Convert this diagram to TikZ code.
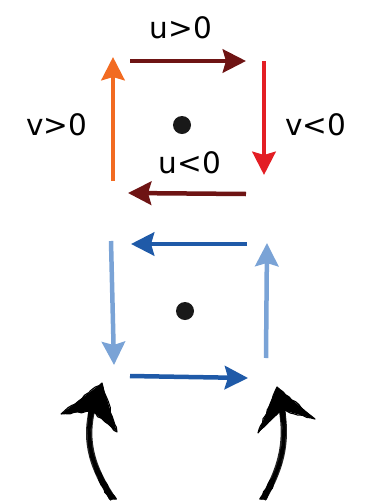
\documentclass[tikz,border=0pt]{standalone}
\usepackage{fontspec}
\setmainfont{DejaVu Sans}
\usetikzlibrary{arrows.meta,decorations.pathmorphing}
\definecolor{darkred}{HTML}{6E1414}
\definecolor{brightred}{HTML}{E31E24}
\definecolor{orangeup}{HTML}{F26B21}
\definecolor{darkblue}{HTML}{1F5AA8}
\definecolor{lightblue}{HTML}{7AA3D6}
\tikzset{
  flow/.style={line width=3.2pt,-{Stealth[length=0.58cm,width=0.58cm,inset=0.08cm]}},
  lbl/.style={font=\fontsize{21}{24}\selectfont,inner sep=0pt},
  center/.style={circle,fill=black!90,minimum size=0.45cm,inner sep=0pt},
  sketch/.style={line width=1.4pt,black,line cap=round,
    decorate,decoration={random steps,segment length=3pt,amplitude=0.6pt}}
}
\begin{document}
\begin{tikzpicture}[x=0.025cm,y=-0.025cm,line cap=butt,line join=round]
  \useasboundingbox (0,0) rectangle (375,501);
  % upper cycle
  \node[center] (c1) at (182,125) {};
  \coordinate (a1) at (130,61);  \coordinate (b1) at (246,61);
  \coordinate (a2) at (264,61);  \coordinate (b2) at (264,175);
  \coordinate (a3) at (246,194); \coordinate (b3) at (128,193);
  \coordinate (a4) at (113,181); \coordinate (b4) at (113,57);
  \draw[flow,darkred] (a1) -- (b1);
  \draw[flow,brightred] (a2) -- (b2);
  \draw[flow,darkred] (a3) -- (b3);
  \draw[flow,orangeup] (a4) -- (b4);
  \node[lbl] (up) at (181,28) {u>0};
  \node[lbl] (vneg) at (316,125) {v<0};
  \node[lbl] (uneg) at (190,163) {u<0};
  \node[lbl] (vpos) at (57,125) {v>0};
  % lower cycle
  \node[center] (c2) at (185,311) {};
  \coordinate (d1) at (247,244); \coordinate (e1) at (131,244);
  \coordinate (d2) at (111,241); \coordinate (e2) at (114,365);
  \coordinate (d3) at (130,376); \coordinate (e3) at (248,378);
  \coordinate (d4) at (266,358); \coordinate (e4) at (267,243);
  \draw[flow,darkblue] (d1) -- (e1);
  \draw[flow,lightblue] (d2) -- (e2);
  \draw[flow,darkblue] (d3) -- (e3);
  \draw[flow,lightblue] (d4) -- (e4);
  % hand drawn arrows
  \coordinate (l0) at (113,499); \coordinate (l1) at (92,410);
  \coordinate (r0) at (263,499); \coordinate (r1) at (282,410);
  \draw[line width=4.5pt,black!85] (l0) .. controls (88,462) and (86,436) .. (l1);
  \draw[line width=4.5pt,black!85] (r0) .. controls (285,462) and (286,436) .. (r1);
  \foreach \dx in {-3,-1.5,0,1.5,3}{
    \draw[sketch] ([xshift=\dx*0.025cm]l0) .. controls (88,462) and (86,436) .. ([xshift=\dx*0.015cm]l1);
    \draw[sketch] ([xshift=\dx*0.025cm]r0) .. controls (285,462) and (286,436) .. ([xshift=\dx*0.015cm]r1);
  }
  \fill[black] (102,383) -- (61,414) -- (92,411) -- (117,432) -- cycle;
  \fill[black] (277,387) -- (258,433) -- (282,410) -- (315,419) -- cycle;
  \draw[sketch,line width=0.8pt] (102,383) -- (61,414) -- (92,411) -- (117,432) -- cycle;
  \draw[sketch,line width=0.8pt] (277,387) -- (258,433) -- (282,410) -- (315,419) -- cycle;
\end{tikzpicture}
\end{document}
